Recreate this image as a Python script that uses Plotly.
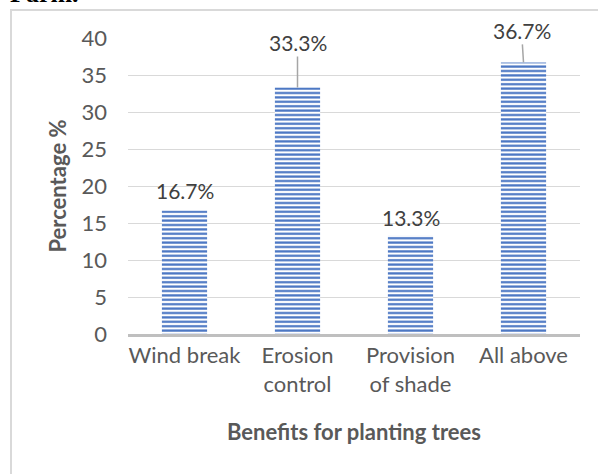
import plotly.graph_objects as go

categories = ["Wind break", "Erosion<br>control", "Provision<br>of shade", "All above"]
values = [16.7, 33.3, 13.3, 36.7]
labels = ["16.7%", "33.3%", "13.3%", "36.7%"]
y_ticks = [0, 5, 10, 15, 20, 25, 30, 35, 40]

W, H = 598, 474
L, R, T, B = 128, 18, 38, 140
pw, ph = W - L - R, H - T - B

def px_x(p):
    return (p - L) / pw

def px_y(p):
    return (H - B - p) / ph

FONT = "Lato"
GRAY = "#595959"

fig = go.Figure()
fig.add_trace(go.Bar(
    x=categories, y=values, width=0.4,
    marker=dict(color="white",
                pattern=dict(shape="-", fgcolor="#4874c2", bgcolor="white",
                             size=4.4, solidity=0.5, fillmode="replace"),
                line=dict(width=0)),
    hoverinfo="skip",
))

# label offsets (pixels) and whether a leader line is drawn
offsets = [(0, -20, False), (0, -45, True), (0, -18, False), (-2, -32, True)]
for c, v, t, (ax, ay, arrow) in zip(categories, values, labels, offsets):
    if arrow:
        fig.add_annotation(x=c, y=v, text=t, showarrow=True, ax=ax, ay=ay,
                           arrowhead=0, arrowwidth=1.5, arrowcolor="#a6a6a6",
                           font=dict(family=FONT, size=21, color="#404040"))
    else:
        fig.add_annotation(x=c, y=v, text=t, showarrow=False, yshift=-ay,
                           yanchor="middle",
                           font=dict(family=FONT, size=21, color="#404040"))

# "Farm." heading cut off at top
fig.add_annotation(xref="paper", yref="paper", x=px_x(8), y=px_y(10.5),
                   xanchor="left", yanchor="bottom", text="<b>Farm.</b>",
                   showarrow=False,
                   font=dict(family="Liberation Serif", size=26, color="black"))

# outer chart border
fig.add_shape(type="rect", xref="paper", yref="paper",
              x0=px_x(11), x1=px_x(620), y0=px_y(500), y1=px_y(10),
              line=dict(color="#d9d9d9", width=2), fillcolor="rgba(0,0,0,0)")

fig.update_layout(
    width=W, height=H,
    margin=dict(l=L, r=R, t=T, b=B),
    paper_bgcolor="white", plot_bgcolor="white",
    showlegend=False,
    font=dict(family=FONT, size=22, color=GRAY),
    bargap=0.6,
    xaxis=dict(showline=True, linecolor="#bfbfbf", linewidth=3,
               showgrid=False, ticks="", tickfont=dict(size=22, color=GRAY),
               title=dict(text="<b>Benefits for planting trees</b>",
                          font=dict(size=22, color=GRAY), standoff=29)),
    yaxis=dict(range=[0, 40], tickvals=y_ticks, showgrid=True,
               gridcolor="#d9d9d9", gridwidth=1, zeroline=False,
               ticklabelstandoff=20, tickfont=dict(size=22, color=GRAY),
               title=dict(text="<b>Percentage %</b>",
                          font=dict(size=22, color=GRAY), standoff=8)),
)

fig.write_html("out.html", config={"displayModeBar": False},
               post_script="document.body.style.margin='0';document.body.style.overflow='hidden';")
